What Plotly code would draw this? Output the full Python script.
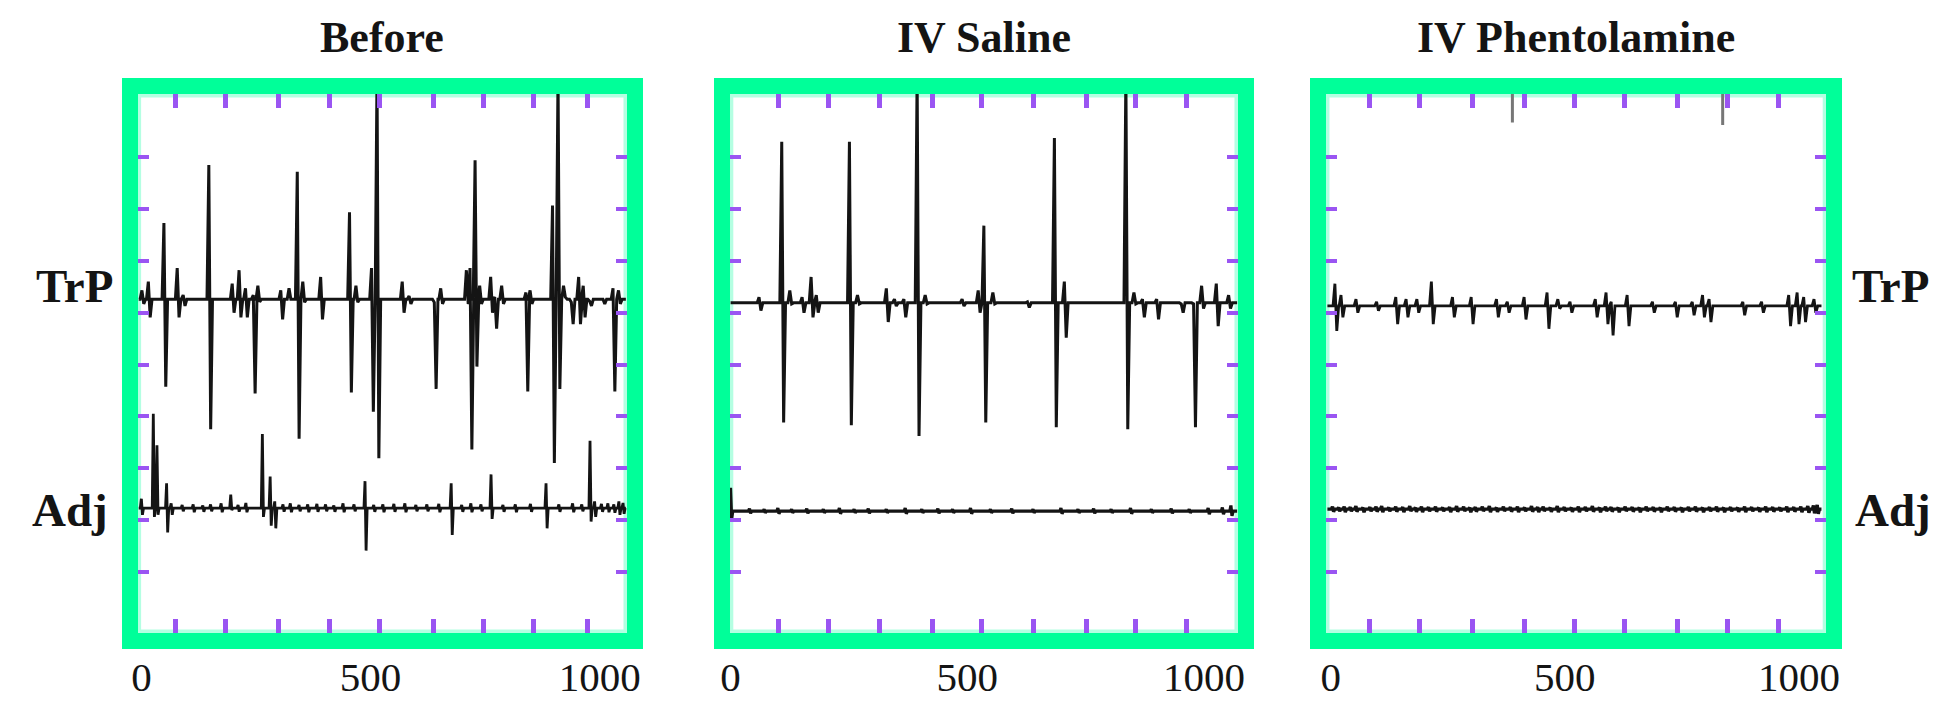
import plotly.graph_objects as go

W, H = 1937, 702

# ---------------- data ----------------
panel_titles = ["Before", "IV Saline", "IV Phentolamine"]
x_tick_vals = [0, 500, 1000]
y_tick_vals = [0, 1, 2, 3, 4, 5, 6, 7, 8]

# purple frame ticks (x positions in ms, per panel)
p1_frame_ticks = [74, 183, 300, 410, 520, 637, 746, 856, 973]
p2_frame_ticks = [101, 207, 315, 426, 531, 639, 752, 856, 964]
p3_frame_ticks = [83, 190, 303, 413, 520, 627, 741, 848, 957]

# ---- Panel 1 : Before ----
p1_trp_base = 5.26
p1_trp_t  = [3, 17, 51, 80, 93, 149, 200, 215, 229, 246, 256, 306, 324, 342, 354, 393, 456, 470,
             504, 516, 571, 586, 641, 655, 711, 719, 730, 740, 764, 773, 788, 841, 850, 899, 911,
             923, 940, 956, 966, 980, 1009, 1031, 1043]
p1_trp_hi = [5.43, 5.60, 6.73, 5.86, 5.34, 7.85, 5.56, 5.82, 5.47, 5.34, 5.52, 5.43, 5.47, 7.72, 5.60, 5.69, 6.94, 5.52,
             5.86, 9.60, 5.60, 5.32, 5.20, 5.47, 5.82, 5.86, 7.94, 5.52, 5.69, 5.30, 5.52, 5.39, 5.43, 7.07, 9.60,
             5.52, 5.20, 5.69, 5.52, 5.22, 5.26, 5.47, 5.43]
p1_trp_lo = [5.17, 4.91, 3.57, 4.91, 5.13, 2.75, 5.00, 4.91, 4.91, 3.44, 5.21, 4.87, 5.26, 2.57, 5.20, 4.87, 3.46, 5.20,
             3.09, 2.19, 5.00, 5.17, 3.53, 5.17, 5.17, 2.36, 3.96, 5.17, 5.00, 4.69, 5.17, 3.48, 5.17, 2.10, 3.53,
             5.30, 4.78, 4.78, 4.91, 5.13, 5.17, 3.48, 5.17]

p1_adj_base = 1.23
p1_adj_t  = [1, 27, 35, 56, 66, 90, 114, 135, 152, 175, 196, 212, 229, 265, 282, 292, 310, 326, 345, 364, 384, 403,
             421, 441, 465, 489, 508, 528, 552, 576, 600, 624, 650, 677, 700, 720, 742, 764, 790, 817, 850, 884,
             912, 942, 962, 980, 990, 1005, 1019, 1032, 1043, 1052]
p1_adj_hi = [1.41, 3.05, 2.44, 1.71, 1.32, 1.29, 1.30, 1.28, 1.30, 1.32, 1.49, 1.29, 1.33, 2.66, 1.84, 1.36, 1.30, 1.32, 1.29,
             1.30, 1.31, 1.30, 1.28, 1.32, 1.30, 1.75, 1.29, 1.30, 1.31, 1.32, 1.29, 1.30, 1.31, 1.71, 1.29, 1.32, 1.30,
             1.88, 1.29, 1.30, 1.31, 1.71, 1.30, 1.32, 1.30, 2.53, 1.36, 1.31, 1.32, 1.30, 1.36, 1.33]
p1_adj_lo = [1.10, 1.06, 1.10, 0.76, 1.10, 1.17, 1.15, 1.16, 1.17, 1.15, 1.19, 1.16, 1.15, 1.06, 0.89, 0.84, 1.16, 1.15, 1.17,
             1.15, 1.16, 1.17, 1.16, 1.15, 1.17, 0.41, 1.16, 1.15, 1.16, 1.15, 1.17, 1.17, 1.15, 0.71, 1.16, 1.15, 1.17,
             1.02, 1.16, 1.15, 1.16, 0.84, 1.16, 1.15, 1.17, 0.97, 1.06, 1.16, 1.15, 1.14, 1.10, 1.12]

# ---- Panel 2 : IV Saline ----
p2_trp_base = 5.19
p2_trp_t  = [62, 110, 127, 153, 172, 183, 253, 270, 331, 348, 368, 396, 413, 491, 525, 537, 556, 629,
             686, 707, 837, 854, 872, 902, 954, 980, 997, 1028, 1054]
p2_trp_hi = [5.30, 8.30, 5.43, 5.30, 5.69, 5.34, 8.30, 5.34, 5.47, 5.26, 5.26, 9.60, 5.34, 5.26, 5.43, 6.68, 5.39, 5.21,
             8.37, 5.60, 9.60, 5.39, 5.26, 5.26, 5.17, 5.17, 5.52, 5.56, 5.34]
p2_trp_lo = [5.04, 2.88, 5.17, 5.00, 4.91, 5.00, 2.83, 5.17, 4.82, 5.13, 4.91, 2.62, 5.17, 5.13, 5.00, 2.88, 5.17, 5.10,
             2.79, 4.52, 2.75, 5.17, 4.91, 4.87, 5.00, 2.79, 5.08, 4.74, 5.08]

p2_adj_base = 1.17
p2_adj_t  = [1, 41, 72, 101, 130, 162, 197, 231, 262, 292, 330, 370, 405, 439, 470, 508, 550, 595, 640,
             699, 735, 768, 805, 846, 890, 932, 970, 1010, 1040, 1058]
p2_adj_hi = [1.62, 1.22, 1.21, 1.23, 1.21, 1.22, 1.21, 1.23, 1.21, 1.22, 1.21, 1.23, 1.21, 1.22, 1.21, 1.23, 1.21, 1.22, 1.21,
             1.23, 1.21, 1.22, 1.21, 1.23, 1.21, 1.22, 1.21, 1.23, 1.24, 1.28]
p2_adj_lo = [1.02, 1.13, 1.14, 1.12, 1.14, 1.13, 1.14, 1.12, 1.14, 1.13, 1.14, 1.12, 1.14, 1.13, 1.14, 1.12, 1.14, 1.13, 1.14,
             1.12, 1.14, 1.13, 1.14, 1.12, 1.14, 1.13, 1.14, 1.11, 1.11, 1.08]

# ---- Panel 3 : IV Phentolamine ----
p3_trp_base = 5.13
p3_trp_t  = [11, 24, 56, 100, 141, 163, 186, 217, 262, 302, 356, 379, 415, 464, 487, 513, 567, 590,
             601, 635, 689, 738, 774, 796, 810, 882, 922, 980, 998, 1012, 1034]
p3_trp_hi = [5.56, 5.34, 5.26, 5.21, 5.30, 5.26, 5.26, 5.60, 5.30, 5.30, 5.26, 5.21, 5.30, 5.39, 5.26, 5.21, 5.26, 5.39,
             5.21, 5.34, 5.21, 5.21, 5.21, 5.34, 5.26, 5.21, 5.21, 5.34, 5.39, 5.30, 5.26]
p3_trp_lo = [4.65, 4.91, 5.00, 5.04, 4.78, 4.91, 5.00, 4.78, 4.91, 4.78, 4.91, 5.00, 4.87, 4.69, 5.08, 5.00, 4.91, 4.78,
             4.56, 4.74, 5.00, 4.91, 4.95, 4.91, 4.82, 4.95, 5.00, 4.74, 4.78, 4.82, 5.00]
p3_top_marks_t = [388, 837]
p3_top_marks_lo = [8.67, 8.62]

p3_adj_base = 1.21
p3_adj_t  = [5, 18, 30, 43, 55, 70, 85, 98, 110, 125, 140, 155, 170, 182, 195, 210, 225, 240, 255, 270, 285, 298, 310,
             325, 340, 355, 370, 385, 400, 415, 430, 443, 455, 470, 485, 500, 515, 530, 545, 560, 575, 588, 600, 615,
             630, 645, 660, 675, 690, 705, 720, 735, 750, 765, 780, 795, 810, 825, 840, 855, 870, 885, 900, 915, 930,
             945, 960, 975, 990, 1005, 1020, 1032, 1040]
p3_adj_hi = [1.26, 1.24, 1.26, 1.25, 1.27, 1.24, 1.25, 1.26, 1.27, 1.24, 1.26, 1.25, 1.27, 1.24, 1.26, 1.25, 1.26, 1.24,
             1.25, 1.27, 1.26, 1.24, 1.25, 1.26, 1.27, 1.24, 1.26, 1.25, 1.26, 1.24, 1.27, 1.25, 1.26, 1.24, 1.27, 1.25,
             1.24, 1.26, 1.25, 1.27, 1.24, 1.26, 1.25, 1.24, 1.26, 1.25, 1.24, 1.26, 1.25, 1.24, 1.26, 1.25, 1.24, 1.25,
             1.26, 1.24, 1.25, 1.26, 1.24, 1.25, 1.24, 1.26, 1.25, 1.24, 1.26, 1.25, 1.24, 1.26, 1.25, 1.26, 1.27, 1.28, 1.29]
p3_adj_lo = [1.16, 1.17, 1.15, 1.17, 1.16, 1.15, 1.17, 1.16, 1.15, 1.17, 1.16, 1.15, 1.17, 1.16, 1.15, 1.17, 1.16, 1.17,
             1.15, 1.16, 1.17, 1.15, 1.16, 1.17, 1.15, 1.16, 1.17, 1.16, 1.15, 1.17, 1.16, 1.15, 1.17, 1.16, 1.15, 1.17,
             1.16, 1.15, 1.17, 1.16, 1.15, 1.17, 1.16, 1.15, 1.17, 1.16, 1.15, 1.17, 1.16, 1.15, 1.17, 1.16, 1.15, 1.17,
             1.16, 1.15, 1.17, 1.16, 1.15, 1.17, 1.16, 1.15, 1.17, 1.16, 1.15, 1.16, 1.17, 1.15, 1.16, 1.15, 1.14, 1.13, 1.12]

# per panel x extent of traces (ms) and axis ranges
p_trace_start = [-6, 0, -7]
p_trace_end = [1057, 1070, 1048]
p_x_range = [[-8.4, 1059.5], [-1.7, 1071.8], [-10.1, 1058.1]]
y_range = [-1.18, 9.22]

# ---------------- styling / layout ----------------
GREEN = "#00FF99"
PALE = "#b4ffe2"
PURPLE = "#9a55f2"
INK = "#141414"
SERIF = "Liberation Serif, Times New Roman, serif"

dom_px = [(122, 617), (721, 1235), (1324, 1830)]
top_px, bot_px = 86, 625
trp_widths = [3.0, 3.0, 2.8]
adj_widths = [2.8, 3.2, 3.4]


def spike_line(base, ts, his, los, t0, t1, hw=5.0):
    xs, ys = [t0], [base]
    for t, hi, lo in sorted(zip(ts, his, los)):
        xs += [t - hw, t - hw / 3, t + hw / 3, t + hw]
        ys += [base, hi, lo, base]
    xs.append(t1)
    ys.append(base)
    return xs, ys


panels = [
    (p1_trp_base, p1_trp_t, p1_trp_hi, p1_trp_lo, p1_adj_base, p1_adj_t, p1_adj_hi, p1_adj_lo, p1_frame_ticks),
    (p2_trp_base, p2_trp_t, p2_trp_hi, p2_trp_lo, p2_adj_base, p2_adj_t, p2_adj_hi, p2_adj_lo, p2_frame_ticks),
    (p3_trp_base, p3_trp_t, p3_trp_hi, p3_trp_lo, p3_adj_base, p3_adj_t, p3_adj_hi, p3_adj_lo, p3_frame_ticks),
]

fig = go.Figure()
layout = dict(
    width=W, height=H,
    margin=dict(l=0, r=0, t=0, b=0),
    paper_bgcolor="white", plot_bgcolor="white",
    showlegend=False,
    font=dict(family=SERIF, color=INK),
    annotations=[], shapes=[],
)

for i, (tb, tt, th, tl, ab, at, ah, al, fticks) in enumerate(panels):
    n = "" if i == 0 else str(i + 1)
    xs, ys = spike_line(tb, tt, th, tl, p_trace_start[i], p_trace_end[i], hw=6.0)
    fig.add_trace(go.Scatter(x=xs, y=ys, mode="lines", line=dict(color=INK, width=trp_widths[i]),
                             xaxis="x" + n, yaxis="y" + n, hoverinfo="skip"))
    xs, ys = spike_line(ab, at, ah, al, p_trace_start[i], p_trace_end[i], hw=3.5)
    fig.add_trace(go.Scatter(x=xs, y=ys, mode="lines", line=dict(color=INK, width=adj_widths[i]),
                             xaxis="x" + n, yaxis="y" + n, hoverinfo="skip"))
    if i == 2:
        for t, lo in zip(p3_top_marks_t, p3_top_marks_lo):
            fig.add_trace(go.Scatter(x=[t, t], y=[lo, y_range[1] + 0.2], mode="lines",
                                     line=dict(color="#777777", width=3),
                                     xaxis="x" + n, yaxis="y" + n, hoverinfo="skip"))

    x0, x1 = dom_px[i]
    layout["xaxis" + n] = dict(
        domain=[x0 / W, x1 / W], range=p_x_range[i], anchor="y" + n,
        showline=True, linecolor=GREEN, linewidth=16, mirror="allticks",
        ticks="", tickmode="array", tickvals=x_tick_vals,
        tickfont=dict(family=SERIF, size=41, color=INK), ticklabelstandoff=-7,
        showgrid=False, zeroline=False, fixedrange=True,
        minor=dict(tickmode="array", tickvals=fticks, ticks="inside", ticklen=14,
                   tickwidth=5, tickcolor=PURPLE, showgrid=False),
    )
    layout["yaxis" + n] = dict(
        domain=[1 - bot_px / H, 1 - top_px / H], range=y_range, anchor="x" + n,
        showline=True, linecolor=GREEN, linewidth=16, mirror="allticks",
        ticks="inside", tickmode="array", tickvals=y_tick_vals, ticklen=11,
        tickwidth=4, tickcolor=PURPLE, showticklabels=False,
        showgrid=False, zeroline=False, fixedrange=True,
    )
    layout["shapes"].append(dict(type="rect", xref="x" + n + " domain", yref="y" + n + " domain",
                                 x0=0, x1=1, y0=0, y1=1, line=dict(color=PALE, width=7), layer="below"))
    layout["annotations"].append(dict(
        text="<b>%s</b>" % panel_titles[i], xref="paper", yref="paper",
        x=(x0 + x1) / 2 / W, y=1 - 30 / H, xanchor="center", yanchor="middle",
        showarrow=False, font=dict(family=SERIF, size=44, color=INK)))

# channel labels
for txt, xpx, ypx, anchor in [("TrP", 58, 278, "center"), ("Adj", 54, 502, "center"),
                              ("TrP", 1854, 278, "left"), ("Adj", 1857, 502, "left")]:
    layout["annotations"].append(dict(
        text="<b>%s</b>" % txt, xref="paper", yref="paper",
        x=xpx / W, y=1 - ypx / H, xanchor=anchor, yanchor="middle",
        showarrow=False, font=dict(family=SERIF, size=47, color=INK)))

fig.update_layout(**layout)
fig.write_html("out.html")
